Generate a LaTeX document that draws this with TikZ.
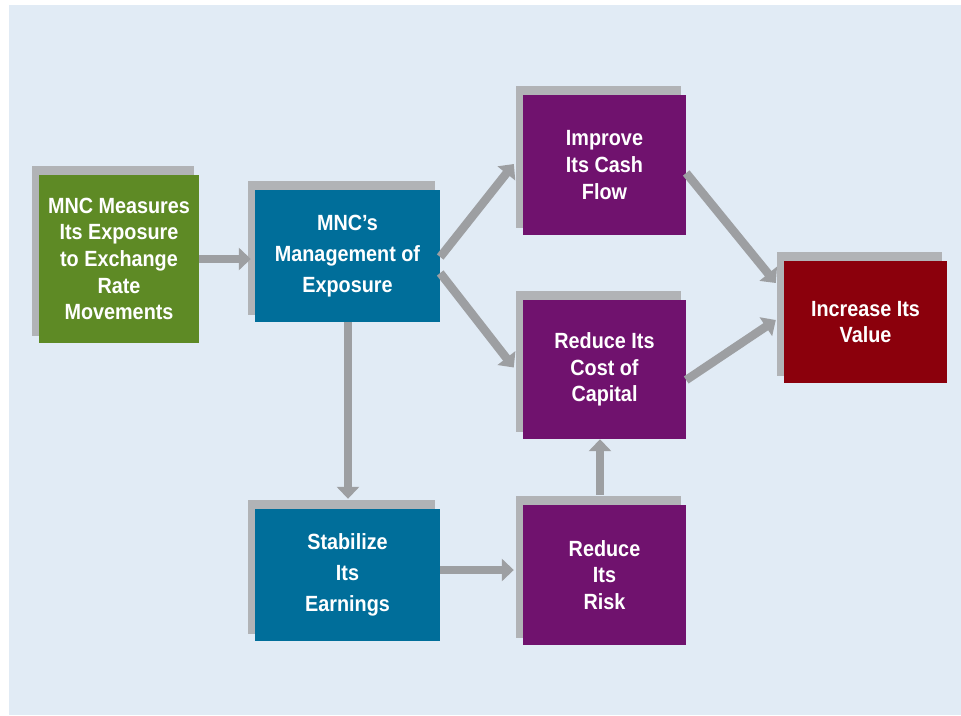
\documentclass[tikz,border=0pt]{standalone}
\usepackage{fontspec}
\setmainfont[FakeStretch=0.9]{Liberation Sans}
\usetikzlibrary{arrows.meta,calc}
\pgfdeclarelayer{bglayer}
\pgfdeclarelayer{shadowlayer}
\pgfsetlayers{bglayer,shadowlayer,main}
\definecolor{bgc}{HTML}{E1EBF5}
\definecolor{shadowc}{HTML}{B1B3B6}
\definecolor{arrowc}{HTML}{9D9FA2}
\definecolor{greenc}{HTML}{5E8A25}
\definecolor{bluec}{HTML}{006E9A}
\definecolor{purplec}{HTML}{70126E}
\definecolor{redc}{HTML}{8B000C}
\tikzset{
  box/.style={inner sep=0pt, align=center, text=white,
    font=\fontsize{22}{26.7}\selectfont\bfseries},
  wbox/.style={box, minimum width=185pt, minimum height=132pt,
    font=\fontsize{22}{31}\selectfont\bfseries},
  nbox/.style={box, minimum width=163pt, minimum height=140pt},
  conn/.style={draw=arrowc, line width=8.5pt,
    -{Triangle[width=22pt,length=12pt]}},
}
\newcommand{\boxshadow}[1]{%
  \fill[shadowc] ($(#1.north west)+(-7,-9)$) rectangle ($(#1.south east)+(-5,-7)$);}
\begin{document}
\begin{tikzpicture}[x=1pt,y=-1pt]
\useasboundingbox (0,0) rectangle (961,715);
\begin{pgfonlayer}{bglayer}
\fill[bgc] (9,5) rectangle (961,715);
\end{pgfonlayer}
\node[box, fill=greenc, minimum width=160pt, minimum height=168pt] (green) at (119,259)
  {MNC Measures\\Its Exposure\\to Exchange\\Rate\\Movements};
\node[wbox, fill=bluec] (mnc) at (347.5,256) {MNC’s\\Management of\\Exposure};
\node[nbox, fill=purplec] (improve) at (604.5,165) {Improve\\Its Cash\\Flow};
\node[nbox, fill=purplec, minimum height=139pt] (cost) at (604.5,369.5) {Reduce Its\\Cost of\\Capital};
\node[box, fill=redc, minimum width=163pt, minimum height=122pt] (increase) at (865.5,322) {Increase Its\\Value};
\node[wbox, fill=bluec] (stab) at (347.5,575) {Stabilize\\Its\\Earnings};
\node[nbox, fill=purplec] (risk) at (604.5,575) {Reduce\\Its\\Risk};
\begin{pgfonlayer}{shadowlayer}
\boxshadow{green}\boxshadow{mnc}\boxshadow{improve}\boxshadow{cost}
\boxshadow{increase}\boxshadow{stab}\boxshadow{risk}
\end{pgfonlayer}
% connectors
\draw[conn] (green.east) -- ($(mnc.west |- green.east)+(-4,0)$);
\draw[conn] ($(mnc.east)+(0,1)$) -- ($(improve.west)+(-9,-1)$);
\draw[conn] ($(mnc.east)+(0,17)$) -- ($(cost.west)+(-9,-2)$);
\draw[conn] ($(improve.east)+(0,8)$) -- ($(increase.west)+(-8,-39)$);
\draw[conn] ($(cost.east)+(0,10.5)$) -- ($(increase.west)+(-8,-2)$);
\draw[conn] ($(mnc.south)+(0.5,0)$) -- ($(stab.north)+(0.5,-10)$);
\draw[conn] ($(stab.east)+(0,-5)$) -- ($(risk.west |- stab.east)+(-9,-5)$);
\draw[conn] ($(risk.north)+(-4.5,-10)$) -- ($(cost.south)+(-4.5,0)$);
\end{tikzpicture}
\end{document}
